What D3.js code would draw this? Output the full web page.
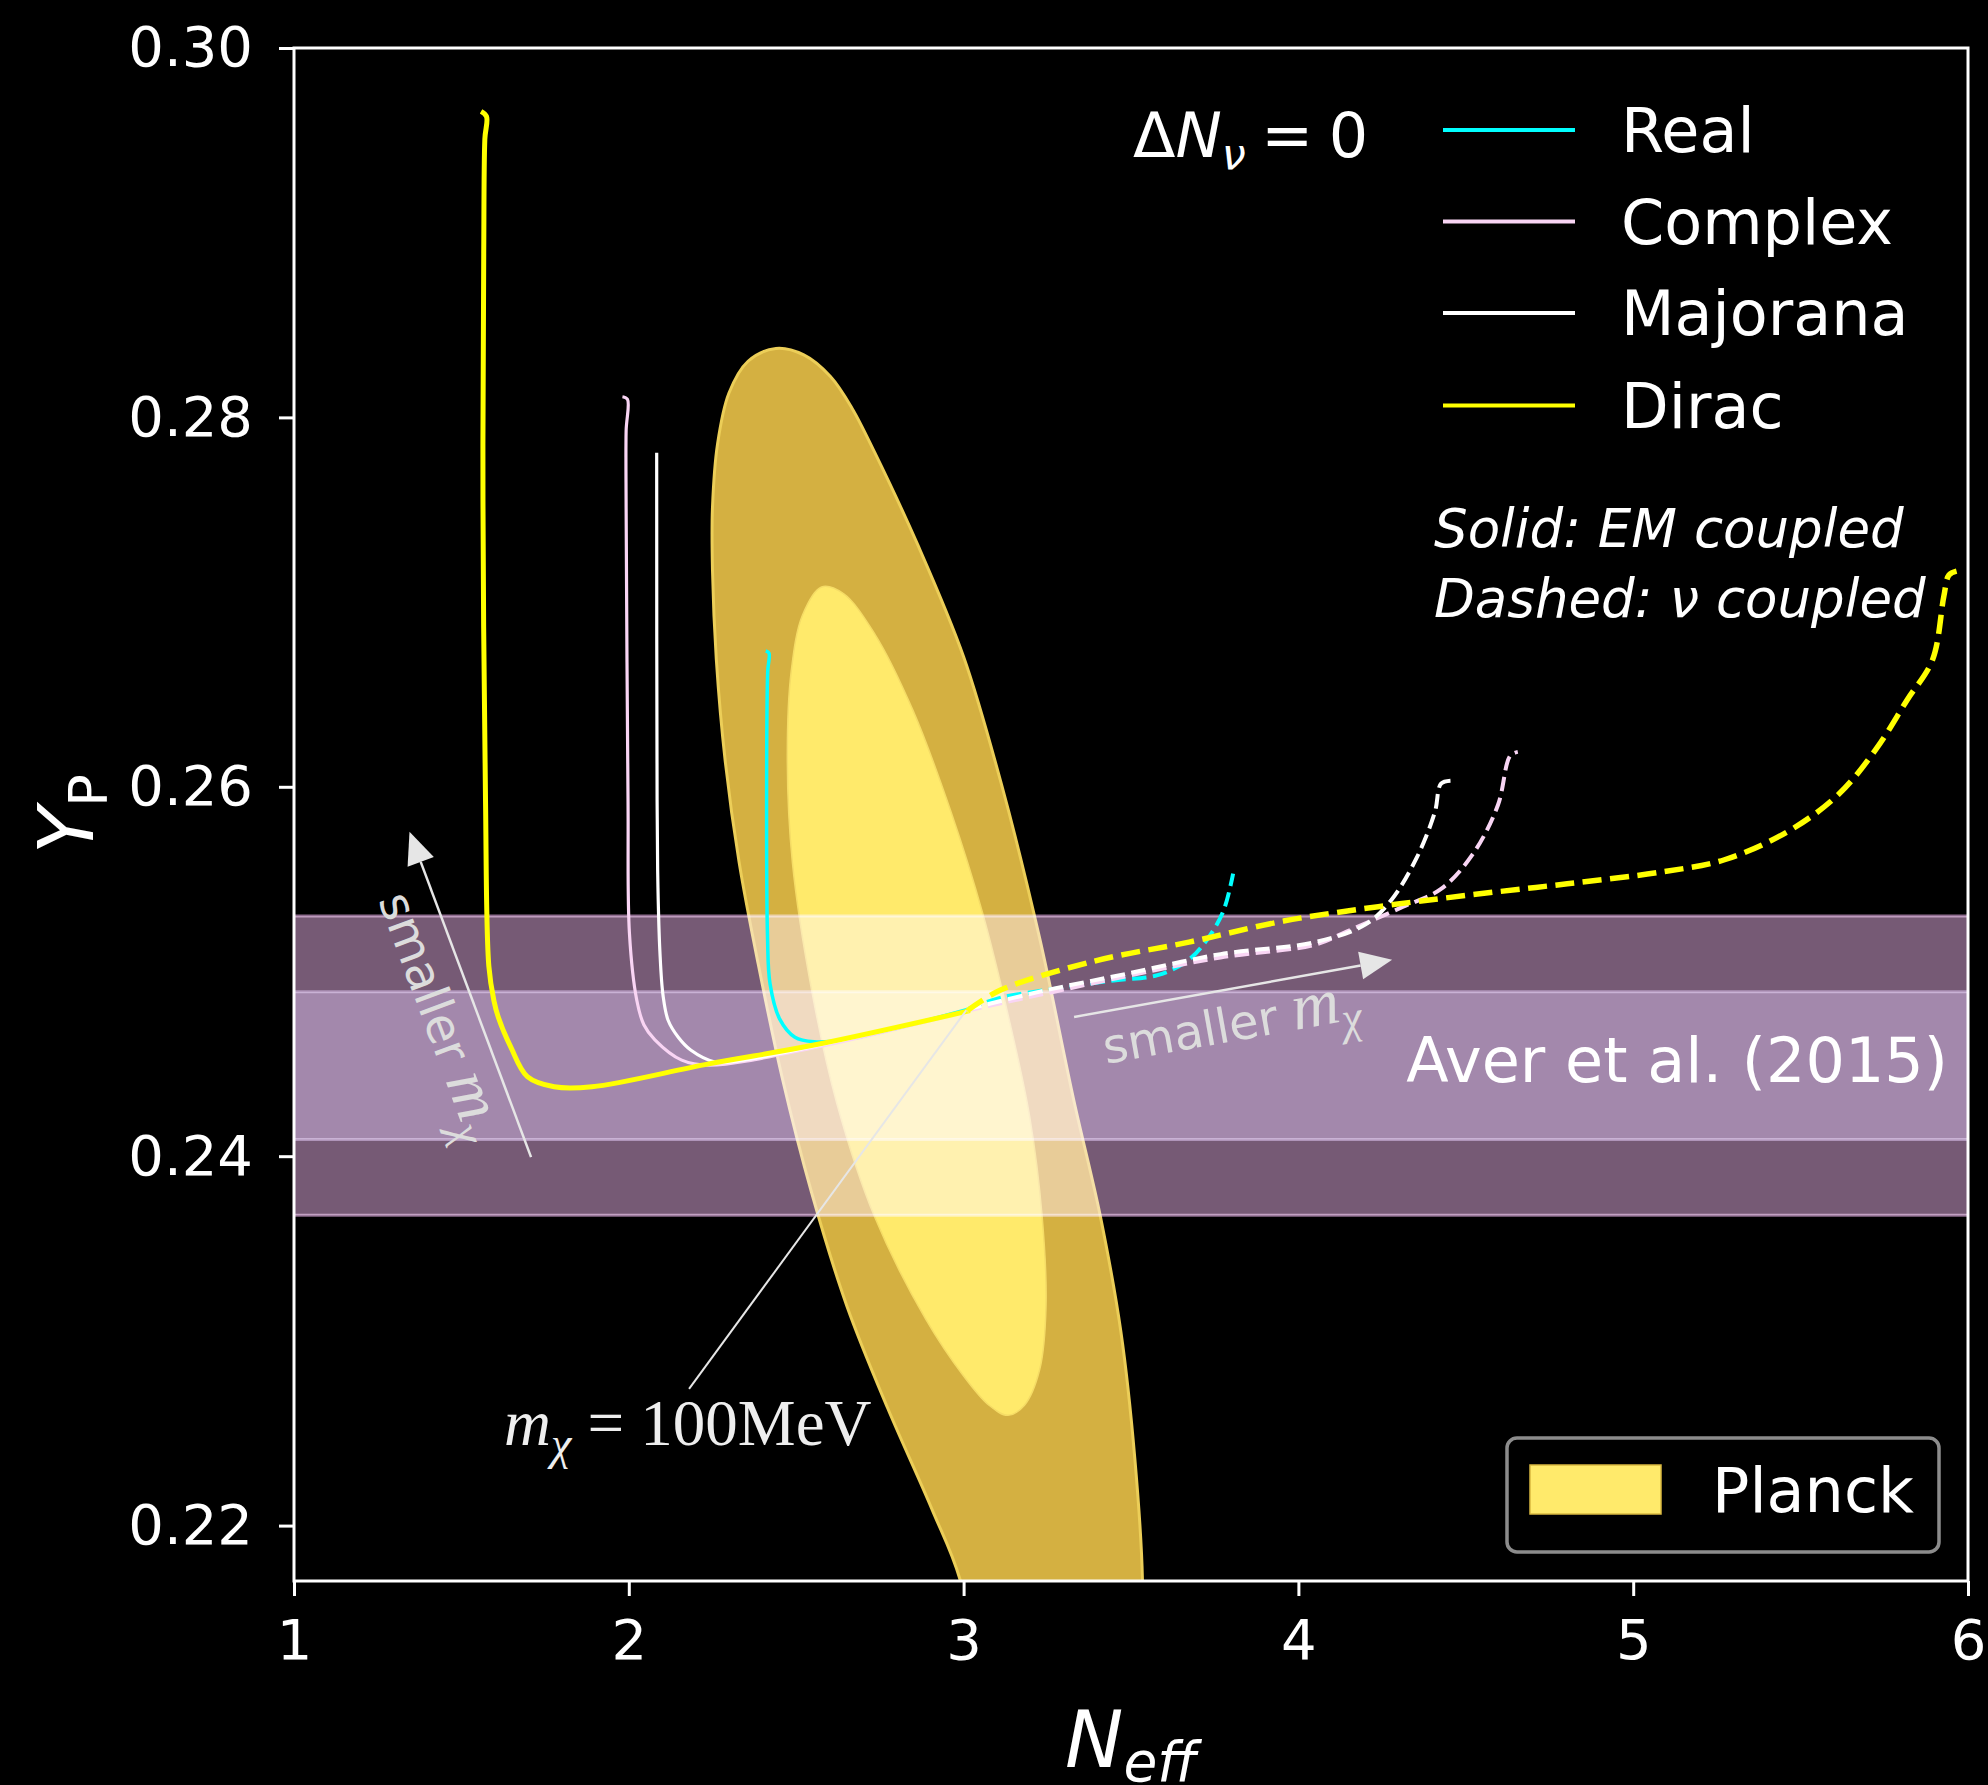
<!DOCTYPE html>
<html>
<head>
<meta charset="utf-8">
<script src="https://cdn.jsdelivr.net/npm/d3@7/dist/d3.min.js"></script>
<style>
  body { margin: 0; background: #000; }
</style>
</head>
<body>
<script>
// axis ticks
const xTicks = [1, 2, 3, 4, 5, 6];
const yTicks = [0.22, 0.24, 0.26, 0.28, 0.30];

// legend entries
const seriesNames = ["Real", "Complex", "Majorana", "Dirac"];

// [N_eff, Y_P]
const realSolid = [[2.409,0.26735],[2.4186,0.26724],[2.4148,0.26621],[2.4144,0.25182],[2.422,0.24932],[2.4508,0.24742],[2.4962,0.24644],[2.553,0.24619],[2.6458,0.2463],[2.783,0.24685],[3.0114,0.24795]];
const realDashed = [[3.0114,0.24795],[3.109,0.24857],[3.295,0.24912],[3.4545,0.24953],[3.5795,0.2498],[3.673,0.25064],[3.73,0.2518],[3.7765,0.2533],[3.805,0.2553]];

const complexSolid = [[1.981,0.28112],[1.996,0.28098],[1.992,0.27926],[1.992,0.27514],[1.9977,0.25928],[2.0019,0.25207],[2.024,0.24843],[2.045,0.24712],[2.078,0.2463],[2.158,0.2452],[2.239,0.24493],[2.557,0.24589],[3.019,0.24788]];
const complexDashed = [[3.0114,0.24788],[3.4848,0.24974],[3.7674,0.25076],[4.0492,0.25145],[4.144,0.25216],[4.3129,0.25351],[4.4261,0.25447],[4.5208,0.25635],[4.5958,0.259],[4.6326,0.26168],[4.6553,0.26189]];

const majoranaSolid = [[2.0833,0.27809],[2.0845,0.25928],[2.0871,0.25454],[2.0928,0.25111],[2.1023,0.2487],[2.1174,0.24736],[2.1477,0.24644],[2.1848,0.24575],[2.2576,0.2451],[2.318,0.24513],[2.557,0.24596],[3.019,0.24788]];
const majoranaDashed = [[3.0114,0.24795],[3.2273,0.24891],[3.4848,0.24987],[3.7674,0.25094],[4.0492,0.25159],[4.2008,0.25255],[4.2765,0.25385],[4.3523,0.25612],[4.4076,0.25863],[4.4261,0.26017],[4.4545,0.26033]];

const diracSolid = [[1.5587,0.29657],[1.575,0.29629],[1.57,0.29506],[1.5667,0.28888],[1.5644,0.27555],[1.572,0.25928],[1.582,0.25028],[1.597,0.24843],[1.61,0.24754],[1.648,0.24589],[1.697,0.24431],[1.777,0.24376],[1.89,0.24376],[2.239,0.245],[2.557,0.24603],[3.019,0.24788]];
const diracDashed = [[3.0114,0.24788],[3.109,0.24898],[3.39,0.25056],[3.673,0.25159],[3.9557,0.25273],[4.2386,0.25351],[4.5205,0.25416],[4.803,0.25475],[5.0852,0.25539],[5.2727,0.25605],[5.4621,0.25758],[5.6121,0.25957],[5.7258,0.26205],[5.8182,0.2647],[5.8939,0.26687],[5.928,0.27033],[5.9432,0.27147],[5.9659,0.27168]];

// Aver et al. (2015) Y_P bands: [low, high]
const averBands = [[0.2368, 0.2530], [0.2409, 0.2489]];

// Planck contours
const planck95 = [[2.4394,0.28373],[2.5227,0.28338],[2.6023,0.28221],[2.6667,0.2805],[2.7348,0.27809],[2.8636,0.27308],[3.0,0.26704],[3.1136,0.2601],[3.2273,0.25179],[3.3295,0.243],[3.4091,0.23669],[3.4697,0.23051],[3.5114,0.22364],[3.5341,0.21711],[3.53,0.21334],[3.4924,0.20853],[3.4167,0.2051],[3.303,0.20372],[3.1705,0.2051],[3.0568,0.21059],[2.9886,0.21712],[2.9053,0.22089],[2.7727,0.22638],[2.6515,0.23188],[2.5455,0.23806],[2.4583,0.24424],[2.3864,0.25042],[2.3295,0.25591],[2.2879,0.26141],[2.2614,0.2669],[2.25,0.27171],[2.25,0.27514],[2.2652,0.27858],[2.2992,0.28132],[2.3561,0.28304]];
const planck68 = [[2.5758,0.27082],[2.6402,0.27047],[2.7348,0.26827],[2.8485,0.26415],[2.9621,0.25866],[3.0568,0.25317],[3.1326,0.24767],[3.197,0.24218],[3.2348,0.23669],[3.2462,0.23188],[3.2273,0.22845],[3.1818,0.22652],[3.1326,0.22597],[3.0758,0.22652],[3.0,0.2281],[2.8864,0.23119],[2.7348,0.23669],[2.6212,0.24287],[2.5455,0.24905],[2.4886,0.25591],[2.4735,0.26141],[2.4848,0.26621],[2.5189,0.2693]];

// annotation anchors (data coords)
const massPoint = [3.008, 0.2479];
const massLabelEnd = [2.18, 0.2274];
const arrowUp = [[1.708, 0.23995], [1.345, 0.25756]];
const arrowRight = [[3.33, 0.24754], [4.28, 0.25063]];

const W = 1988, H = 1785;
const sans = "'DejaVu Sans', sans-serif";
const serif = "'Liberation Serif', 'DejaVu Serif', serif";

const svg = d3.select("body").append("svg").attr("width", W).attr("height", H)
    .style("font-family", sans);
svg.append("rect").attr("width", W).attr("height", H).attr("fill", "#000");

const x = d3.scaleLinear().domain([1, 6]).range([294, 1968]);
const y = d3.scaleLinear().domain([0.217, 0.30]).range([1581, 48]);

svg.append("clipPath").attr("id", "plotclip").append("rect")
    .attr("x", x(1)).attr("y", y(0.30)).attr("width", x(6) - x(1)).attr("height", y(0.217) - y(0.30));

const plot = svg.append("g").attr("clip-path", "url(#plotclip)").style("isolation", "isolate");
plot.append("rect").attr("x", x(1)).attr("y", y(0.30)).attr("width", x(6) - x(1)).attr("height", y(0.217) - y(0.30))
    .attr("fill", "#000");

// Planck contours
const closed = d3.line().x(d => x(d[0])).y(d => y(d[1])).curve(d3.curveCatmullRomClosed.alpha(0.5));
plot.append("path").attr("d", closed(planck95)).attr("fill", "#d4b041").attr("stroke", "#ecce58").attr("stroke-width", 3);
plot.append("path").attr("d", closed(planck68)).attr("fill", "#ffea6b").attr("stroke", "#f5dc66").attr("stroke-width", 1.5);

// Aver bands, screened over what lies beneath
const bandFill = ["#765a75", "#544766"];
const bandEdge = ["#8e6c8e", "#6a5a7e"];
averBands.forEach((b, i) => {
    plot.append("rect")
        .attr("x", x(1)).attr("width", x(6) - x(1))
        .attr("y", y(b[1])).attr("height", y(b[0]) - y(b[1]))
        .attr("fill", bandFill[i])
        .style("mix-blend-mode", "screen");
    [b[0], b[1]].forEach(v => {
        plot.append("line").attr("x1", x(1)).attr("x2", x(6)).attr("y1", y(v)).attr("y2", y(v))
            .attr("stroke", bandEdge[i]).attr("stroke-width", 3)
            .style("mix-blend-mode", "screen");
    });
});

// curves
const line = d3.line().x(d => x(d[0])).y(d => y(d[1])).curve(d3.curveCatmullRom.alpha(0.5));
const curves = [
    { data: realSolid, color: "#00ffff", w: 3.5 },
    { data: complexSolid, color: "#f9d5f4", w: 3.2 },
    { data: majoranaSolid, color: "#ffffff", w: 3.2 },
    { data: diracSolid, color: "#ffff00", w: 5 },
    { data: realDashed, color: "#00ffff", w: 4, dash: "14.5,6.5" },
    { data: complexDashed, color: "#f9d5f4", w: 4, dash: "14.5,6.5" },
    { data: majoranaDashed, color: "#ffffff", w: 4, dash: "14.5,6.5" },
    { data: diracDashed, color: "#ffff00", w: 5.5, dash: "19,8.5" }
];
curves.forEach(c => {
    plot.append("path").attr("d", line(c.data))
        .attr("fill", "none").attr("stroke", c.color).attr("stroke-width", c.w)
        .attr("stroke-dasharray", c.dash || null).attr("stroke-linejoin", "round");
});

// arrows
const grey = "#e6e6e6";
function arrow(a) {
    const x0 = x(a[0][0]), y0 = y(a[0][1]), x1 = x(a[1][0]), y1 = y(a[1][1]);
    const len = Math.hypot(x1 - x0, y1 - y0), ux = (x1 - x0) / len, uy = (y1 - y0) / len;
    const L = 32, hw = 14;
    const bx = x1 - L * ux, by = y1 - L * uy;
    svg.append("line").attr("x1", x0).attr("y1", y0).attr("x2", bx).attr("y2", by)
        .attr("stroke", grey).attr("stroke-width", 2.5);
    svg.append("path")
        .attr("d", `M${x1},${y1}L${bx - hw * uy},${by + hw * ux}L${bx + hw * uy},${by - hw * ux}Z`)
        .attr("fill", grey);
    return Math.atan2(y1 - y0, x1 - x0) * 180 / Math.PI;
}
const angUp = arrow(arrowUp) + 180;
const angRight = arrow(arrowRight);

svg.append("line")
    .attr("x1", x(massLabelEnd[0])).attr("y1", y(massLabelEnd[1]))
    .attr("x2", x(massPoint[0])).attr("y2", y(massPoint[1]))
    .attr("stroke", grey).attr("stroke-width", 2);

function smallerText(px, py, ang) {
    const t = svg.append("text").attr("transform", `translate(${px},${py}) rotate(${ang})`)
        .attr("font-size", 48).attr("fill", "#dcdcdc");
    t.append("tspan").text("smaller ");
    t.append("tspan").style("font-family", serif).attr("font-style", "italic").attr("font-size", 66).text("m");
    t.append("tspan").style("font-family", serif).attr("font-style", "italic").attr("font-size", 46).attr("dy", 13).text("χ");
}
smallerText(378, 900, angUp);
smallerText(1106, 1064, angRight);

const mlab = svg.append("text").attr("x", 504).attr("y", 1445)
    .style("font-family", serif).attr("font-size", 65).attr("fill", "#eeeeee");
mlab.append("tspan").attr("font-style", "italic").text("m");
mlab.append("tspan").attr("font-style", "italic").attr("font-size", 46).attr("dy", 14).text("χ");
mlab.append("tspan").attr("dy", -14).text(" = 100MeV");

// Aver label
svg.append("text").attr("x", 1948).attr("y", 1082).attr("text-anchor", "end")
    .attr("font-size", 62).attr("fill", "#fff").text("Aver et al. (2015)");

// frame
svg.append("rect").attr("x", x(1)).attr("y", y(0.30)).attr("width", x(6) - x(1)).attr("height", y(0.217) - y(0.30))
    .attr("fill", "none").attr("stroke", "#fff").attr("stroke-width", 3);

// axes
const gx = svg.append("g").attr("transform", `translate(0,${y(0.217)})`)
    .call(d3.axisBottom(x).tickValues(xTicks).tickSize(15).tickPadding(23).tickFormat(d3.format("d")));
const gy = svg.append("g").attr("transform", `translate(${x(1)},0)`)
    .call(d3.axisLeft(y).tickValues(yTicks).tickSize(15).tickPadding(26).tickFormat(d3.format(".2f")));
[gx, gy].forEach(g => {
    g.select(".domain").remove();
    g.attr("font-size", 56).attr("font-family", sans);
    g.selectAll("line").attr("stroke", "#fff").attr("stroke-width", 3);
    g.selectAll("text").attr("fill", "#fff");
});

// axis labels
const xl = svg.append("text").attr("x", 1131).attr("y", 1767).attr("text-anchor", "middle")
    .attr("font-style", "italic").attr("font-size", 78).attr("fill", "#fff");
xl.append("tspan").text("N");
xl.append("tspan").attr("font-size", 55).attr("dy", 14).text("eff");

const yl = svg.append("text").attr("transform", "translate(93,814) rotate(-90)").attr("text-anchor", "middle")
    .attr("font-size", 77).attr("fill", "#fff");
yl.append("tspan").attr("font-style", "italic").text("Y");
yl.append("tspan").attr("font-size", 54).attr("dy", 14).text("P");

// legend
const legColors = ["#00ffff", "#f9d5f4", "#ffffff", "#ffff00"];
const legY = [130, 221.5, 313, 405.5];
seriesNames.forEach((n, i) => {
    svg.append("line").attr("x1", 1443).attr("x2", 1575).attr("y1", legY[i]).attr("y2", legY[i])
        .attr("stroke", legColors[i]).attr("stroke-width", 4);
    svg.append("text").attr("x", 1621).attr("y", legY[i] + 22).attr("font-size", 62).attr("fill", "#fff").text(n);
});

const dn = svg.append("text").attr("x", 1133).attr("y", 157).attr("font-size", 62).attr("fill", "#fff");
dn.append("tspan").text("Δ");
dn.append("tspan").attr("font-style", "italic").text("N");
dn.append("tspan").attr("font-style", "italic").attr("font-size", 43).attr("dy", 12).text("ν");
dn.append("tspan").attr("dy", -12).text("\u2005=\u20050");

svg.append("text").attr("x", 1434).attr("y", 547).attr("font-size", 53).attr("font-style", "italic")
    .attr("fill", "#fff").text("Solid: EM coupled");
svg.append("text").attr("x", 1434).attr("y", 617).attr("font-size", 53).attr("font-style", "italic")
    .attr("fill", "#fff").text("Dashed: ν coupled");

// Planck legend box
svg.append("rect").attr("x", 1507).attr("y", 1438).attr("width", 432).attr("height", 114).attr("rx", 10)
    .attr("fill", "#000").attr("stroke", "#8c8c8c").attr("stroke-width", 3.5);
svg.append("rect").attr("x", 1530).attr("y", 1465).attr("width", 131).attr("height", 49)
    .attr("fill", "#ffea6b").attr("stroke", "#d9b840").attr("stroke-width", 1.5);
svg.append("text").attr("x", 1712).attr("y", 1512).attr("font-size", 62).attr("fill", "#fff").text("Planck");
</script>
</body>
</html>
